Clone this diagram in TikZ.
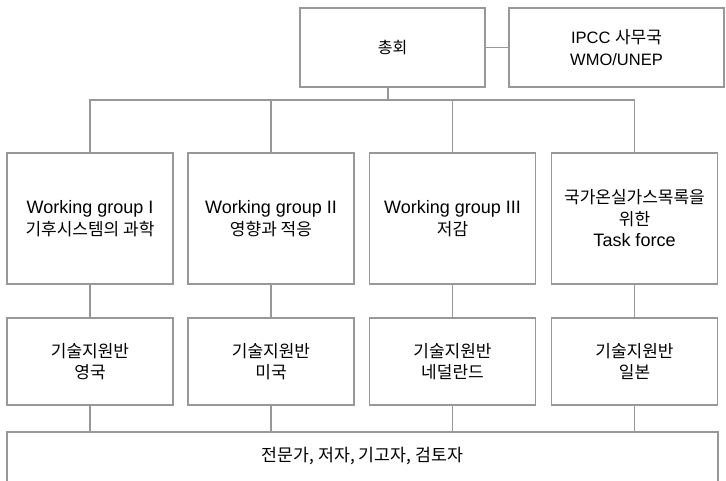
\documentclass[tikz,border=0pt]{standalone}
\usepackage{fontspec}
\setmainfont{Liberation Sans}
\newfontfamily\krfont{Noto Sans CJK KR}
\newcommand{\kr}[1]{{\krfont\fontsize{17}{21.5}\selectfont #1}}
\definecolor{linegray}{RGB}{152,152,152}
\tikzset{
  orgbox/.style={draw=linegray, line width=1.9pt, fill=white, inner sep=0pt, outer sep=0pt,
    align=center, font=\fontsize{18}{21.5}\selectfont},
  conn/.style={draw=linegray, line width=1.9pt}
}
\begin{document}
\begin{tikzpicture}[x=1pt,y=-1pt]
\useasboundingbox (0,0) rectangle (726,480);
\clip (0,0) rectangle (726,480);
% top row
\node[orgbox, minimum width=185pt, minimum height=79pt] (gen) at (392.5,47.5) {{\krfont\fontsize{16}{21.5}\selectfont 총회}};
\node[orgbox, minimum width=215pt, minimum height=79pt, font=\fontsize{16.5}{22}\selectfont] (ipcc) at (616.5,47.5) {IPCC \kr{사무국}\\WMO/UNEP};
% working groups
\node[orgbox, minimum width=166pt, minimum height=131pt] (wg1) at (90,218.5) {Working group I\\\kr{기후시스템의 과학}};
\node[orgbox, minimum width=166pt, minimum height=131pt] (wg2) at (271,218.5) {Working group II\\\kr{영향과 적응}};
\node[orgbox, minimum width=166pt, minimum height=131pt] (wg3) at (452.5,218.5) {Working group III\\\kr{저감}};
\node[orgbox, minimum width=166pt, minimum height=131pt] (wg4) at (634.5,218.5) {\kr{국가온실가스목록을}\\\kr{위한}\\Task force};
% technical support units
\node[orgbox, minimum width=166pt, minimum height=87pt] (t1) at (90,361.5) {\kr{기술지원반}\\\kr{영국}};
\node[orgbox, minimum width=166pt, minimum height=87pt] (t2) at (271,361.5) {\kr{기술지원반}\\\kr{미국}};
\node[orgbox, minimum width=166pt, minimum height=87pt] (t3) at (452.5,361.5) {\kr{기술지원반}\\\kr{네덜란드}};
\node[orgbox, minimum width=166pt, minimum height=87pt] (t4) at (634.5,361.5) {\kr{기술지원반}\\\kr{일본}};
% bottom
\node[orgbox, minimum width=711pt, minimum height=59pt] (bot) at (362.5,461.5) {};
\node[inner sep=0pt] (bottext) at (362.5,456) {{\krfont\fontsize{17.3}{21.5}\selectfont 전문가, 저자, 기고자, 검토자}};
% connectors
\coordinate (bus) at (388,100);
\draw[conn] (gen.east) -- (ipcc.west);
\draw[conn] (gen.south -| bus) -- (bus);
\draw[conn] (wg1.north) -- (wg1.north |- bus) -- (wg4.north |- bus) -- (wg4.north);
\draw[conn] (wg2.north) -- (wg2.north |- bus);
\draw[conn] (wg3.north) -- (wg3.north |- bus);
\foreach \i in {1,2,3,4}{
  \draw[conn] (wg\i.south) -- (t\i.north);
  \draw[conn] (t\i.south) -- (t\i.south |- bot.north);
}
\end{tikzpicture}
\end{document}
